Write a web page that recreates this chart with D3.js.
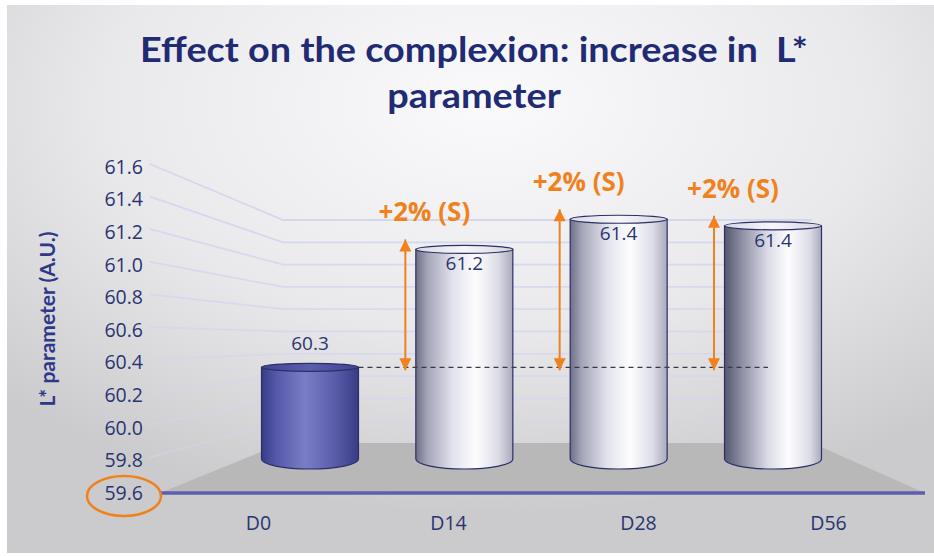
<!DOCTYPE html>
<html>
<head>
<meta charset="utf-8">
<script src="https://cdn.jsdelivr.net/npm/d3@7"></script>
<style>
    html, body { margin: 0; padding: 0; background: #fff; }
    svg { display: block; }
</style>
</head>
<body>
<div id="chart"></div>
<script>
// Datos del gráfico
const categories = ['D0', 'D14', 'D28', 'D56'];
const values = [60.3, 61.2, 61.43, 61.38];
const valueLabels = ['60.3', '61.2', '61.4', '61.4'];
const changeLabels = ['', '+2% (S)', '+2% (S)', '+2% (S)'];
const baselineValue = 60.3;
const yTicks = [59.6, 59.8, 60.0, 60.2, 60.4, 60.6, 60.8, 61.0, 61.2, 61.4, 61.6];
const titleLines = ['Effect on the complexion: increase in  L*', 'parameter'];
const yTitle = 'L* parameter (A.U.)';

const width = 934;
const height = 556;
const navy = '#2a3470';
const orange = '#f0821e';

const svg = d3.select('#chart').append('svg')
    .attr('width', width)
    .attr('height', height);

const defs = svg.append('defs');

// Fondo
const bg = defs.append('radialGradient')
    .attr('id', 'bgGrad')
    .attr('cx', '52%').attr('cy', '18%').attr('r', '75%');
bg.append('stop').attr('offset', '0%').attr('stop-color', '#fafafc');
bg.append('stop').attr('offset', '55%').attr('stop-color', '#e9e9eb');
bg.append('stop').attr('offset', '100%').attr('stop-color', '#cbcbcd');

svg.append('rect')
    .attr('x', 7).attr('y', 5)
    .attr('width', width - 7).attr('height', height - 8)
    .attr('fill', 'url(#bgGrad)');

// Escalas: plano frontal (ejes), plano de los cilindros y pared del fondo
const yFront = d3.scaleLinear().domain([59.6, 61.6]).range([493, 167]);
const yBar = d3.scaleLinear().domain([59.6, 61.6]).range([459, 197]);
const yBack = d3.scaleLinear().domain([59.6, 61.6]).range([443, 220]);
const xFront = d3.scalePoint().domain(categories).range([258, 828]);
const xBar = d3.scalePoint().domain(categories).range([310, 773]);
const barW = 97;
const floor = { frontLeft: 160, backLeft: 283, backRight: 812, frontRight: 925 };

// Líneas de la cuadrícula (pared izquierda + fondo)
svg.append('g')
    .selectAll('path')
    .data(yTicks.slice(1))
    .join('path')
    .attr('d', d => `M150,${yFront(d) - 3} L${floor.backLeft},${yBack(d)} L${floor.backRight},${yBack(d)}`)
    .attr('fill', 'none')
    .attr('stroke', '#d2d6ee')
    .attr('stroke-width', 1.8)
    .attr('opacity', d => 0.45 + 0.5 * (d - 59.6) / 2);

// Suelo
svg.append('path')
    .attr('d', `M${floor.frontLeft},${yFront(59.6)} L${floor.backLeft},${yBack(59.6)} L${floor.backRight},${yBack(59.6)} L${floor.frontRight},${yFront(59.6)} Z`)
    .attr('fill', '#b8b8b9');

// Eje X
svg.append('line')
    .attr('x1', floor.frontLeft).attr('x2', floor.frontRight)
    .attr('y1', yFront(59.6)).attr('y2', yFront(59.6))
    .attr('stroke', '#5d5fae')
    .attr('stroke-width', 3.5);

// Degradados de los cilindros
function cylGradient(id, stops) {
    const g = defs.append('linearGradient').attr('id', id)
        .attr('x1', '0%').attr('x2', '100%').attr('y1', '0%').attr('y2', '0%');
    stops.forEach(s => g.append('stop').attr('offset', s[0]).attr('stop-color', s[1]));
}
cylGradient('blueBody', [['0%', '#383c86'], ['15%', '#5558a8'], ['45%', '#7a7dc6'], ['75%', '#5a5dab'], ['100%', '#393c84']]);
cylGradient('whiteBody', [['0%', '#6e7086'], ['12%', '#a4a5b8'], ['38%', '#e2e2ec'], ['62%', '#fdfdff'], ['85%', '#dcdce6'], ['100%', '#a9aabb']]);
cylGradient('whiteBodyDark', [['0%', '#55576e'], ['18%', '#8d8fa4'], ['45%', '#dcdce8'], ['66%', '#fdfdff'], ['88%', '#dcdce6'], ['100%', '#a9aabb']]);
cylGradient('whiteTop', [['0%', '#d8d8e2'], ['50%', '#f6f6fa'], ['100%', '#d4d4de']]);
cylGradient('blueTop', [['0%', '#3f4390'], ['50%', '#5a5eae'], ['100%', '#3f4390']]);

const data = categories.map((c, i) => ({
    c: c, v: values[i], label: valueLabels[i], change: changeLabels[i], i: i
}));

const rx = barW / 2;
const ryTop = 4;
const ryBottom = 10;

const cyl = svg.append('g').selectAll('g')
    .data(data)
    .join('g');

cyl.append('path')
    .attr('d', d => {
        const x0 = xBar(d.c) - rx, x1 = xBar(d.c) + rx;
        const yT = yBar(d.v), yB = yBar(59.6);
        return `M${x0},${yT} L${x0},${yB} A${rx},${ryBottom} 0 0 0 ${x1},${yB} L${x1},${yT} Z`;
    })
    .attr('fill', d => d.i === 0 ? 'url(#blueBody)' : (d.i === categories.length - 1 ? 'url(#whiteBodyDark)' : 'url(#whiteBody)'))
    .attr('stroke', '#2c2f66')
    .attr('stroke-width', 1.2);

cyl.append('ellipse')
    .attr('cx', d => xBar(d.c))
    .attr('cy', d => yBar(d.v))
    .attr('rx', rx)
    .attr('ry', ryTop)
    .attr('fill', d => d.i === 0 ? 'url(#blueTop)' : 'url(#whiteTop)')
    .attr('stroke', '#2c2f66')
    .attr('stroke-width', 1.2);

// Etiquetas de valor
cyl.append('text')
    .attr('x', d => xBar(d.c))
    .attr('y', d => d.i === 0 ? yBar(d.v) - 17 : yBar(d.v) + 21)
    .attr('text-anchor', 'middle')
    .attr('font-family', 'Open Sans, sans-serif')
    .attr('font-size', '19px')
    .attr('fill', navy)
    .text(d => d.label);

// Línea de referencia (D0)
svg.append('line')
    .attr('x1', xBar(categories[0]) + rx)
    .attr('x2', xBar(categories[categories.length - 1]) - 5)
    .attr('y1', yBar(baselineValue))
    .attr('y2', yBar(baselineValue))
    .attr('stroke', '#3a3a44')
    .attr('stroke-width', 1.2)
    .attr('stroke-dasharray', '5,4');

// Flechas dobles
defs.append('marker')
    .attr('id', 'arrowHead')
    .attr('viewBox', '0 0 10 10')
    .attr('refX', 10).attr('refY', 5)
    .attr('markerWidth', 14).attr('markerHeight', 12)
    .attr('markerUnits', 'userSpaceOnUse')
    .attr('orient', 'auto-start-reverse')
    .append('path')
    .attr('d', 'M0,0 L10,5 L0,10 Z')
    .attr('fill', orange);

const changed = data.filter(d => d.change);

svg.append('g').selectAll('line')
    .data(changed)
    .join('line')
    .attr('x1', d => xBar(d.c) - 59)
    .attr('x2', d => xBar(d.c) - 59)
    .attr('y1', d => yBar(d.v) - 10)
    .attr('y2', yBar(baselineValue) + 3)
    .attr('stroke', orange)
    .attr('stroke-width', 2)
    .attr('marker-start', 'url(#arrowHead)')
    .attr('marker-end', 'url(#arrowHead)');

svg.append('g').selectAll('text')
    .data(changed)
    .join('text')
    .attr('x', d => xBar(d.c) - 40)
    .attr('y', d => yBar(d.v) - 28)
    .attr('text-anchor', 'middle')
    .attr('font-family', 'Open Sans, sans-serif')
    .attr('font-weight', 'bold')
    .attr('font-size', '26px')
    .attr('fill', orange)
    .text(d => d.change);

// Eje Y (etiquetas)
const yAxis = svg.append('g')
    .attr('transform', 'translate(143,0)')
    .call(d3.axisLeft(yFront).tickValues(yTicks).tickFormat(d3.format('.1f')).tickSize(0).tickPadding(0));
yAxis.select('.domain').remove();
yAxis.selectAll('text')
    .attr('fill', navy)
    .style('font-family', 'Open Sans, sans-serif')
    .style('font-size', '19.5px');

// Eje X (categorías)
const xAxis = svg.append('g')
    .attr('transform', `translate(0,${yFront(59.6)})`)
    .call(d3.axisBottom(xFront).tickSize(0).tickPadding(23));
xAxis.select('.domain').remove();
xAxis.selectAll('text')
    .attr('fill', navy)
    .style('font-family', 'Open Sans, sans-serif')
    .style('font-size', '19.5px');

// Elipse resaltando 59.6
svg.append('ellipse')
    .attr('cx', 124)
    .attr('cy', yFront(59.6) + 3)
    .attr('rx', 37)
    .attr('ry', 20)
    .attr('fill', 'none')
    .attr('stroke', orange)
    .attr('stroke-width', 2.5);

// Título del eje Y
svg.append('text')
    .attr('transform', 'translate(55,319) rotate(-90)')
    .attr('text-anchor', 'middle')
    .attr('font-family', 'Lato, sans-serif')
    .attr('font-weight', 'bold')
    .attr('font-size', '21px')
    .attr('fill', '#2d3888')
    .text(yTitle);

// Título
const titleG = svg.append('g');
const tLines = titleG.selectAll('text')
    .data(titleLines)
    .join('text')
    .attr('text-anchor', 'middle')
    .attr('font-family', 'Lato, sans-serif')
    .attr('font-weight', 'bold')
    .attr('font-size', '35px')
    .attr('fill', '#212b73')
    .style('white-space', 'pre')
    .text(d => d);

const natural = tLines.node().getComputedTextLength();
const k = natural > 0 ? 668 / natural : 1;
tLines.attr('transform', (d, i) => `translate(474,${i === 0 ? 62 : 108}) scale(${k},1)`);
</script>
</body>
</html>
